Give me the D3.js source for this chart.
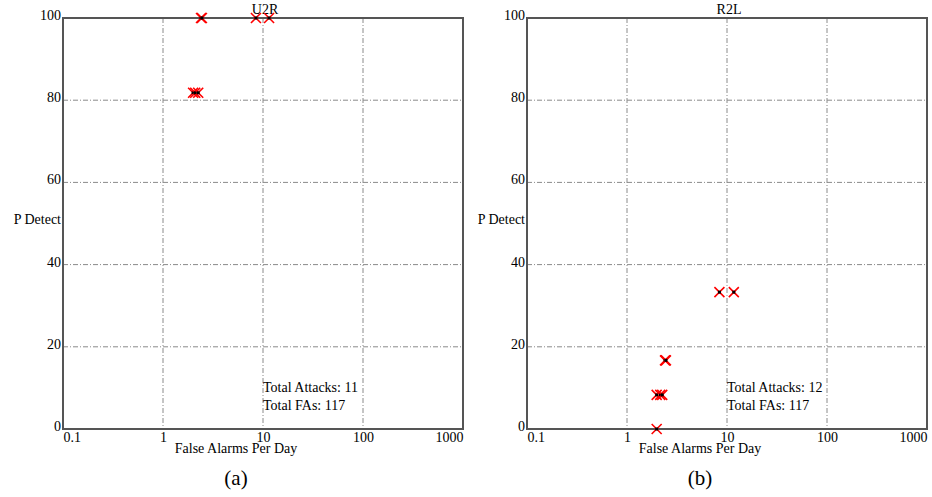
<!DOCTYPE html>
<html>
<head>
<meta charset="utf-8">
<script src="https://cdn.jsdelivr.net/npm/d3@7"></script>
<style>
  body { margin: 0; background: #fff; }
  text { font-family: "Liberation Serif", "DejaVu Serif", serif; fill: #000; }
</style>
</head>
<body>
<svg width="932" height="497"></svg>
<script>
// Chart values
var xTicks = [0.1, 1, 10, 100, 1000];
var yTicks = [0, 20, 40, 60, 80, 100];

var u2rFA = [2.0, 2.1, 2.25, 2.4, 2.45, 8.5, 11.5];
var u2rPD = [81.8, 81.8, 81.8, 100, 100, 100, 100];
var u2rInfo = ["Total Attacks: 11", "Total FAs: 117"];

var r2lFA = [8.4, 11.7, 2.4, 2.45, 1.98, 2.15, 2.25, 1.98];
var r2lPD = [33.3, 33.3, 16.7, 16.7, 8.3, 8.3, 8.3, 0];
var r2lInfo = ["Total Attacks: 12", "Total FAs: 117"];

var panels = [
  {title: "U2R", fa: u2rFA, pd: u2rPD, info: u2rInfo, tag: "(a)", left: 63},
  {title: "R2L", fa: r2lFA, pd: r2lPD, info: r2lInfo, tag: "(b)", left: 527}
];

var plotW = 400, plotH = 411, plotTop = 18;
var svg = d3.select("svg");

panels.forEach(function(p) {
  var g = svg.append("g")
    .attr("transform", "translate(" + p.left + "," + plotTop + ")");

  var xScale = d3.scaleLog().domain([0.1, 1000]).range([0, plotW]);
  var yScale = d3.scaleLinear().domain([0, 100]).range([plotH, 0]);

  // grid lines
  g.append("g").selectAll("line")
    .data(xTicks.slice(1, -1))
    .enter().append("line")
    .attr("x1", function(d) { return xScale(d); })
    .attr("x2", function(d) { return xScale(d); })
    .attr("y1", 0).attr("y2", plotH)
    .attr("stroke", "#8a8a8a").attr("stroke-width", 1)
    .attr("stroke-dasharray", "5,2,1,2");

  g.append("g").selectAll("line")
    .data(yTicks.slice(1, -1))
    .enter().append("line")
    .attr("x1", 0).attr("x2", plotW)
    .attr("y1", function(d) { return yScale(d); })
    .attr("y2", function(d) { return yScale(d); })
    .attr("stroke", "#8a8a8a").attr("stroke-width", 1)
    .attr("stroke-dasharray", "5,2,1,2");

  // frame
  g.append("rect")
    .attr("width", plotW).attr("height", plotH)
    .attr("fill", "none").attr("stroke", "#555").attr("stroke-width", 2);

  // axes (labels only)
  var x_axis = d3.axisBottom(xScale).tickValues(xTicks)
    .tickFormat(function(d) { return d; }).tickSize(0).tickPadding(3);
  var xa = g.append("g").attr("transform", "translate(0," + plotH + ")").call(x_axis);
  xa.select(".domain").remove();
  xa.selectAll("text").attr("font-size", 14).attr("font-family", "Liberation Serif")
    .attr("text-anchor", function(d, i) {
      return i === 0 ? "start" : (i === xTicks.length - 1 ? "end" : "middle");
    });

  var y_axis = d3.axisLeft(yScale).tickValues(yTicks).tickSize(0).tickPadding(2);
  var ya = g.append("g").call(y_axis);
  ya.select(".domain").remove();
  ya.selectAll("text").attr("font-size", 14).attr("font-family", "Liberation Serif")
    .attr("dy", "0.1em");

  // labels
  g.append("text").attr("x", 202).attr("y", -4)
    .attr("text-anchor", "middle").attr("font-size", 14).text(p.title);
  g.append("text").attr("x", -2).attr("y", 206)
    .attr("text-anchor", "end").attr("font-size", 14).text("P Detect");
  g.append("text").attr("x", 173).attr("y", plotH + 24)
    .attr("text-anchor", "middle").attr("font-size", 14).text("False Alarms Per Day");
  g.append("text").attr("x", 173).attr("y", plotH + 56)
    .attr("text-anchor", "middle").attr("font-size", 21)
    .attr("font-family", "DejaVu Serif").text(p.tag);

  p.info.forEach(function(t, i) {
    g.append("text").attr("x", 200).attr("y", 374 + i * 18)
      .attr("font-size", 14).text(t);
  });

  // markers
  var pts = p.fa.map(function(v, i) { return [v, p.pd[i]]; });
  var m = g.append("g").selectAll("g")
    .data(pts).enter().append("g")
    .attr("transform", function(d) {
      return "translate(" + xScale(d[0]) + "," + yScale(d[1]) + ")";
    });
  m.append("path")
    .attr("d", "M-5,-5L5,5M-5,5L5,-5")
    .attr("stroke", "#f00").attr("stroke-width", 1.6).attr("fill", "none");
  m.append("rect")
    .attr("x", -1.5).attr("y", -1.5).attr("width", 3).attr("height", 3)
    .attr("fill", "#000");
});
</script>
</body>
</html>
